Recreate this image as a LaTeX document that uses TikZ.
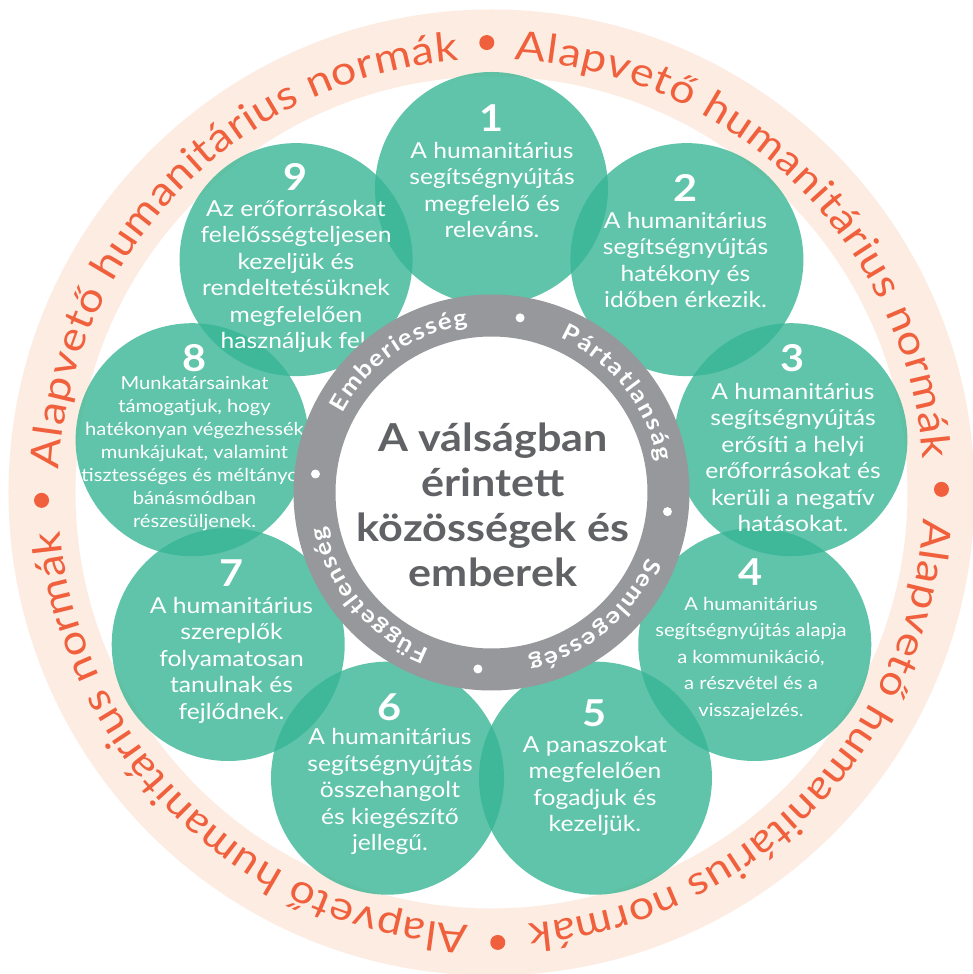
\documentclass[tikz,border=0pt]{standalone}
\usepackage{fontspec}
\setmainfont{Lato}[FakeStretch=1.12]
\usetikzlibrary{decorations.text}
\definecolor{teal1}{RGB}{56,182,149}
\definecolor{salmon}{RGB}{253,236,226}
\definecolor{orng}{RGB}{240,96,60}
\definecolor{ringgray}{RGB}{151,152,155}
\definecolor{dgray}{RGB}{97,98,101}
\newcommand\outerfmt{\fontsize{40}{40}\selectfont\color{orng}}
\newcommand\ringfmt{\fontsize{23}{23}\selectfont\bfseries\color{white}}
\begin{document}
\begin{tikzpicture}[x=1pt,y=1pt,
  bubble/.style={circle, fill=teal1, fill opacity=0.8, minimum size=233pt, inner sep=0pt},
  num/.style={text=white, font=\fontsize{37}{37}\selectfont\bfseries, inner sep=0pt},
  btext/.style={text=white, align=center, font=\fontsize{22}{26.5}\selectfont, inner sep=0pt},
  stext/.style={text=white, align=center, font=\fontsize{18}{26.5}\selectfont, inner sep=0pt},
  ttext/.style={text=white, align=center, font=\fontsize{18}{23}\selectfont, inner sep=0pt},
  outerword/.style={decorate, decoration={text along path, text={|\outerfmt|Alapvető humanitárius normák}, text align=fit to path}},
  ringword/.style={decorate, decoration={text along path, text={|\ringfmt|#1}, text align=fit to path}}
]
\fill[white] (-491.5,-481.5) rectangle (481.5,492.5);
\useasboundingbox (-491.5,-481.5) rectangle (481.5,492.5);

% outer band
\fill[salmon, even odd rule] (0,0) circle[radius=483] (0,0) circle[radius=416];
\path[outerword] (176.9:433) arc[start angle=176.9, end angle=94.3, radius=433];
\path[outerword] (86.9:433) arc[start angle=86.9, end angle=4.5, radius=433];
\path[outerword] (-3.4:433) arc[start angle=-3.4, end angle=-85.1, radius=433];
\path[outerword] (-93:433) arc[start angle=-93, end angle=-174.9, radius=433];
\fill[orng] (90.6:450) circle[radius=7.5];
\fill[orng] (0.4:450) circle[radius=7.5];
\fill[orng] (-89.2:450) circle[radius=7.5];
\fill[orng] (181:450) circle[radius=7.5];

% bubbles
\foreach \k in {1,...,9} \node[bubble] (c\k) at ({90-40*(\k-1)}:304) {};

% bubble texts
\node[num] (n1) at (0.5,374.5) {1};
\node[btext] (t1) at (0.5,302.5) {A humanitárius\\segítségnyújtás\\megfelelő és\\releváns.};
\node[num] (n2) at (194,304.5) {2};
\node[btext] (t2) at (194,232.5) {A humanitárius\\segítségnyújtás\\hatékony és\\időben érkezik.};
\node[num] (n3) at (301.5,134.5) {3};
\node[btext] (t3) at (301.5,35) {A humanitárius\\segítségnyújtás\\erősíti a helyi\\erőforrásokat és\\kerüli a negatív\\hatásokat.};
\node[num] (n4) at (259.5,-79.5) {4};
\node[stext] (t4) at (259.5,-166) {A humanitárius\\segítségnyújtás alapja\\a kommunikáció,\\a részvétel és a\\visszajelzés.};
\node[num] (n5) at (103.5,-220.5) {5};
\node[btext] (t5) at (103.5,-293.5) {A panaszokat\\megfelelően\\fogadjuk és\\kezeljük.};
\node[num] (n6) at (-101.5,-214.5) {6};
\node[btext] (t6) at (-101.5,-299) {A humanitárius\\segítségnyújtás\\összehangolt\\és kiegészítő\\jellegű.};
\node[num] (n7) at (-260,-80.5) {7};
\node[btext] (t7) at (-260,-167.5) {A humanitárius\\szereplők\\folyamatosan\\tanulnak és\\fejlődnek.};
\node[num] (n8) at (-297,134.5) {8};
\node[ttext] (t8) at (-297,38.5) {Munkatársainkat\\támogatjuk, hogy\\hatékonyan végezhessék\\munkájukat, valamint\\tisztességes és méltányos\\bánásmódban\\részesüljenek.};
\node[num] (n9) at (-195.5,315.5) {9};
\node[btext] (t9) at (-195.5,216) {Az erőforrásokat\\felelősségteljesen\\kezeljük és\\rendeltetésüknek\\megfelelően\\használjuk fel.};

% gray ring
\fill[ringgray, even odd rule] (0,0) circle[radius=198] (0,0) circle[radius=156];
\path[ringword=Emberiesség] (152:169) arc[start angle=152, end angle=98, radius=169];
\path[ringword=Pártatlanság] (66:169) arc[start angle=66, end angle=10.5, radius=169];
\path[ringword=Semlegesség] (-22.5:169) arc[start angle=-22.5, end angle=-77.5, radius=169];
\path[ringword=Függetlenség] (248.5:169) arc[start angle=248.5, end angle=191.5, radius=169];
\fill[white] (80.7:177) circle[radius=4.5];
\fill[white] (-6.2:177) circle[radius=4.5];
\fill[white] (-94.4:177) circle[radius=4.5];
\fill[white] (174:177) circle[radius=4.5];

% centre
\node[align=center, text=dgray, font=\fontsize{38.5}{45}\selectfont\bfseries, inner sep=0pt] (centre) at (1.5,-12.5) {A válságban\\érintett\\közösségek és\\emberek};
\end{tikzpicture}
\end{document}
